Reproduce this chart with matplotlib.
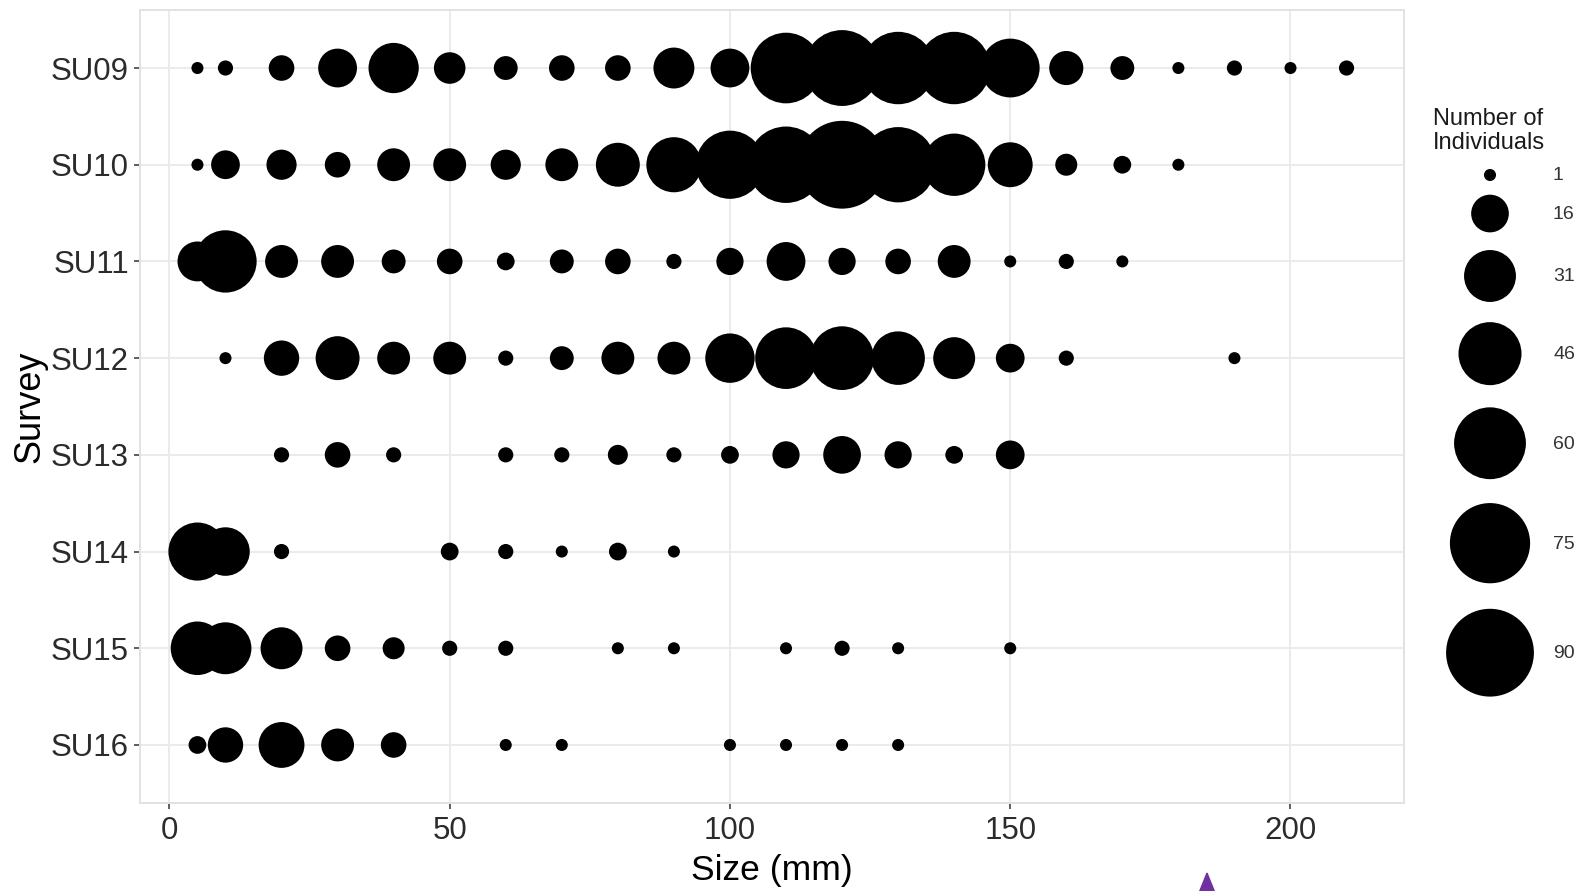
import numpy as np
import matplotlib
matplotlib.use("Agg")
import matplotlib.pyplot as plt
from matplotlib.patches import Polygon

plt.rcParams['font.family'] = ['Liberation Sans', 'DejaVu Sans']

# size classes (mm) and surveys, top to bottom
size_bins = [5, 10, 20, 30, 40, 50, 60, 70, 80, 90, 100,
             110, 120, 130, 140, 150, 160, 170, 180, 190, 200, 210]
surveys = ["SU09", "SU10", "SU11", "SU12", "SU13", "SU14", "SU15", "SU16"]

# number of individuals per size class (0 = none recorded)
su09 = [1, 2, 7, 17, 29, 11, 6, 7, 7, 19, 17, 58, 67, 61, 61, 40, 13, 6, 1, 2, 1, 2]
su10 = [1, 9, 10, 7, 12, 12, 10, 12, 22, 35, 54, 68, 90, 66, 45, 23, 5, 3, 1, 0, 0, 0]
su11 = [18, 45, 12, 12, 6, 7, 3, 6, 7, 2, 8, 17, 8, 7, 12, 1, 2, 1, 0, 0, 0, 0]
su12 = [0, 1, 14, 22, 12, 12, 2, 6, 12, 12, 28, 44, 47, 33, 20, 9, 2, 0, 0, 1, 0, 0]
su13 = [0, 0, 2, 7, 2, 0, 2, 2, 4, 2, 3, 8, 16, 8, 3, 9, 0, 0, 0, 0, 0, 0]
su14 = [39, 27, 2, 0, 0, 3, 2, 1, 3, 1, 0, 0, 0, 0, 0, 0, 0, 0, 0, 0, 0, 0]
su15 = [33, 31, 20, 7, 5, 2, 2, 0, 1, 1, 0, 1, 2, 1, 0, 1, 0, 0, 0, 0, 0, 0]
su16 = [3, 14, 24, 12, 7, 0, 1, 1, 0, 0, 1, 1, 1, 1, 0, 0, 0, 0, 0, 0, 0, 0]
counts = [su09, su10, su11, su12, su13, su14, su15, su16]

legend_breaks = [1, 16, 31, 46, 60, 75, 90]

W, H = 1577, 891


def marker_area(n):
    # diameter^2 (px) grows linearly with the count, converted to points^2
    d_px2 = 60 + 85 * np.asarray(n, dtype=float)
    return d_px2 * 0.72 ** 2


fig = plt.figure(figsize=(W / 100, H / 100), dpi=100)
ax = fig.add_axes([140 / W, 1 - 803 / H, 1264 / W, 793 / H])

for i, row in enumerate(counts):
    xs = [x for x, c in zip(size_bins, row) if c > 0]
    cs = [c for c in row if c > 0]
    ax.scatter(xs, [i] * len(xs), s=marker_area(cs), c="black",
               linewidths=0, zorder=3)

ax.set_xlim(-5.25, 220.25)
ax.set_ylim(len(surveys) - 0.4, -0.6)
ax.set_xticks([0, 50, 100, 150, 200])
ax.set_yticks(range(len(surveys)))
ax.set_yticklabels(surveys)

ax.set_axisbelow(True)
ax.grid(True, color="#ebebeb", linewidth=1.4)
for sp in ax.spines.values():
    sp.set_color("#e2e2e2")
    sp.set_linewidth(1.4)

ax.tick_params(length=4.3, width=1.1, color="#333333", labelsize=22.5,
               labelcolor="#2b2b2b", pad=3.6)
ax.tick_params(axis="x", pad=5)

ax.set_xlabel("Size (mm)", fontsize=25.5, color="black", labelpad=6)
ax.set_ylabel("Survey", fontsize=26, color="black")
ax.yaxis.label.set_va("center")
ax.yaxis.set_label_coords(-0.087, 0.5)

# legend drawn on an overlay measured in pixels
lax = fig.add_axes([0, 0, 1, 1], facecolor="none")
lax.set_xlim(0, W)
lax.set_ylim(H, 0)
lax.axis("off")

lax.text(1433, 131, "Number of\nIndividuals", fontsize=17, color="#1a1a1a",
         ha="left", va="center", linespacing=1.15)

key_d = np.sqrt(60 + 85 * np.asarray(legend_breaks, dtype=float))
key_y = [175.0]
for j in range(1, len(key_d)):
    key_y.append(key_y[-1] + 1.2 * (key_d[j - 1] + key_d[j]) / 2 + 8.7)

lax.scatter([1490] * len(legend_breaks), key_y, s=marker_area(legend_breaks),
            c="black", linewidths=0)
for b, y in zip(legend_breaks, key_y):
    lax.text(1553, y + 1, str(b), fontsize=14, color="#333333",
             ha="left", va="center")

# purple pointer at the bottom edge
lax.add_patch(Polygon([[1207, 873], [1199, 893], [1215, 893]],
                      closed=True, color="#7030a0", clip_on=False))

fig.savefig("out.png", dpi=100)
